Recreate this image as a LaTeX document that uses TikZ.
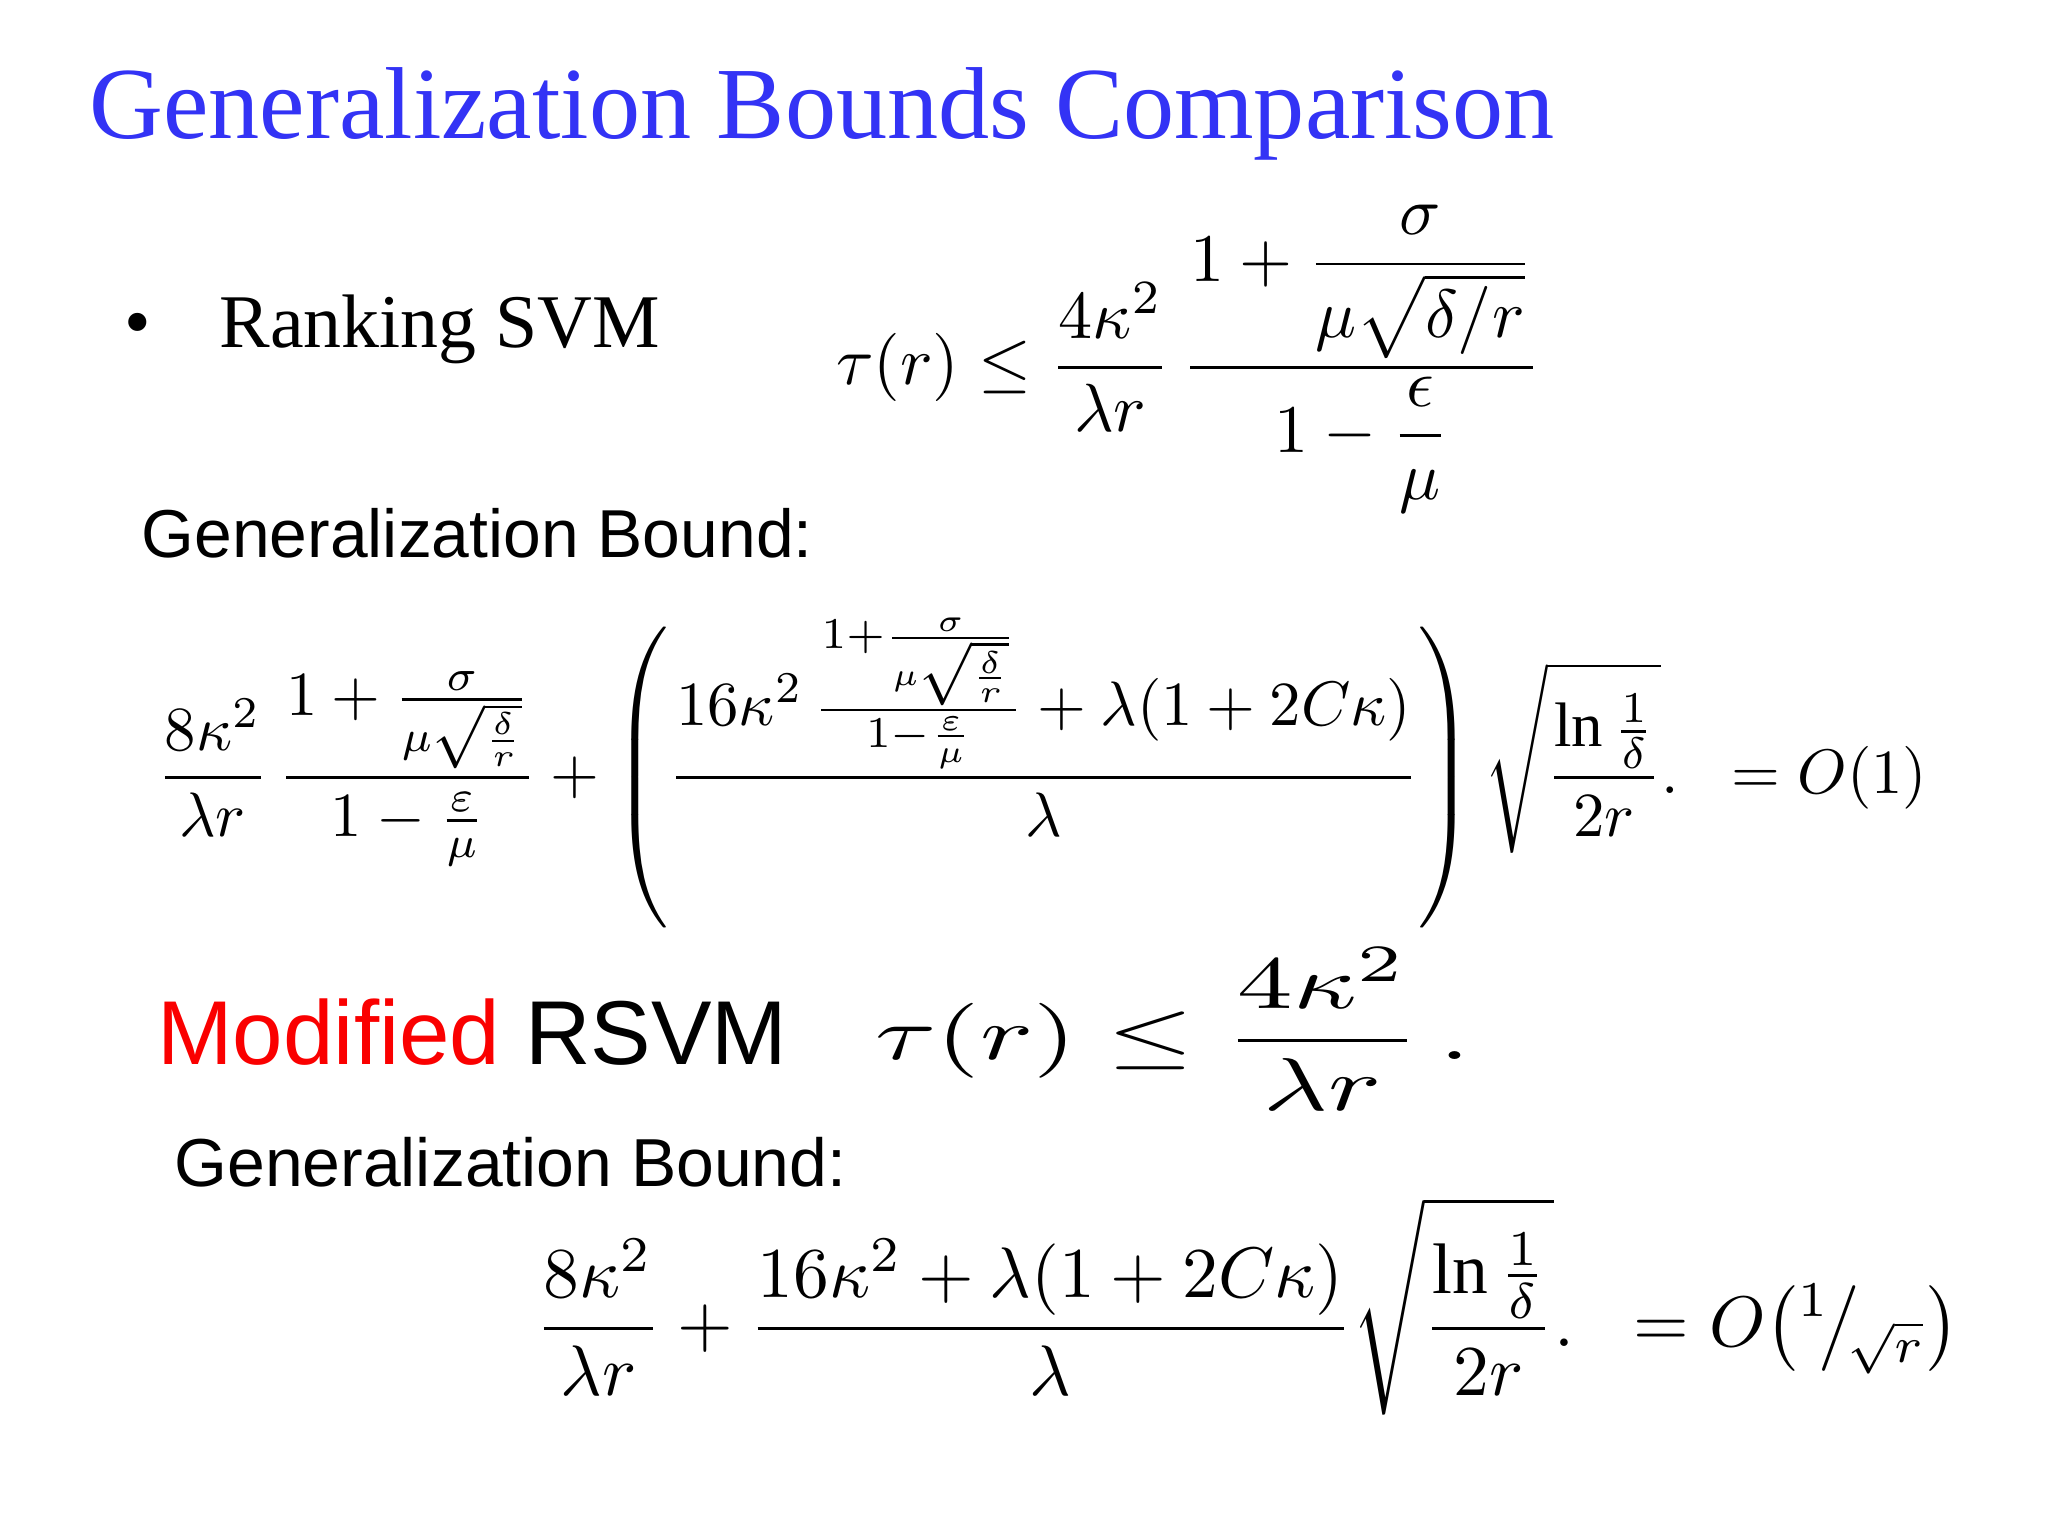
\documentclass[tikz,border=0pt]{standalone}
\usepackage{amsmath}
\usepackage{graphicx}
\usepackage{fontspec}
\setmainfont{Liberation Serif}
\setsansfont{Liberation Sans}
\definecolor{titleblue}{RGB}{51,51,245}
\definecolor{modred}{RGB}{250,0,0}
\begin{document}
\begin{tikzpicture}[x=0.013061cm,y=-0.013061cm,
  txt/.style={inner sep=0pt,anchor=west},
  fm/.style={inner sep=0pt}]
\useasboundingbox[fill=white] (0,0) rectangle (1568,1176);
\node[txt,text=titleblue] (title) at (68,87) {\resizebox{14.65cm}{!}{Generalization Bounds Comparison}};
\node[txt] (rank) at (95,252) {\resizebox{5.35cm}{!}{\textbullet\hspace{0.9em}Ranking SVM}};
\node[fm] (f1) at (910,275) {\resizebox{7.05cm}{!}{$\displaystyle \tau(r)\le\frac{4\kappa^2}{\lambda r}\,\frac{1+\dfrac{\sigma}{\mu\sqrt{\delta/r}}}{1-\dfrac{\epsilon}{\mu}}$}};
\node[txt] (gb1) at (108,408) {\resizebox{6.71cm}{!}{\sffamily Generalization Bound:}};
\node[fm] (f2) at (798,592) {\resizebox{17.7cm}{!}{$\displaystyle \frac{8\kappa^2}{\lambda r}\,\frac{1+\frac{\sigma}{\mu\sqrt{\frac{\delta}{r}}}}{1-\frac{\varepsilon}{\mu}}+\left(\frac{16\kappa^2\,\frac{1+\frac{\sigma}{\mu\sqrt{\frac{\delta}{r}}}}{1-\frac{\varepsilon}{\mu}}+\lambda(1+2C\kappa)}{\lambda}\right)\sqrt{\frac{\ln\frac{1}{\delta}}{2r}}.\;\;=O(1)$}};
\node[txt] (mod) at (120,790) {\resizebox{6.3cm}{!}{\sffamily\textcolor{modred}{Modified} RSVM}};
\node[fm] (f3) at (898,788) {\resizebox*{5.94cm}{1.63cm}{$\displaystyle \tau(r)\le\frac{4\kappa^2}{\lambda r}\,.$}};
\node[txt] (gb2) at (133,890) {\resizebox{6.72cm}{!}{\sffamily Generalization Bound:}};
\node[fm] (f4) at (955,1000) {\resizebox{14.24cm}{!}{$\displaystyle \frac{8\kappa^2}{\lambda r}+\frac{16\kappa^2+\lambda(1+2C\kappa)}{\lambda}\sqrt{\frac{\ln\frac{1}{\delta}}{2r}}.\;\;=O\bigl({}^{1}\!\big/\!{}_{\sqrt{r}}\bigr)$}};
\end{tikzpicture}
\end{document}
